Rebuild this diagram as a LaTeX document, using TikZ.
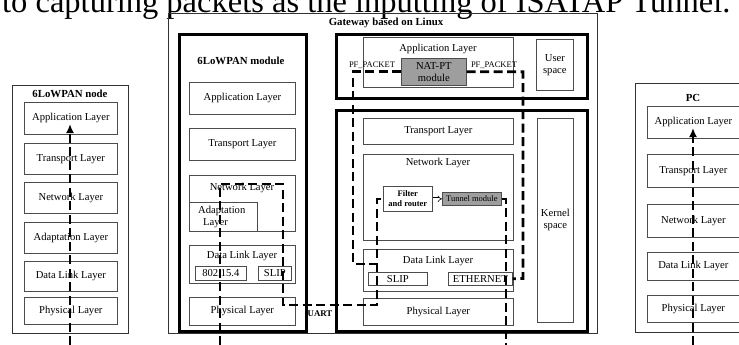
\documentclass[tikz,border=0pt]{standalone}
\usepackage{fontspec}
\setmainfont{Liberation Serif}
\usetikzlibrary{arrows.meta}
\tikzset{
  lay/.style={draw=black!70, line width=0.7pt},
  thk/.style={draw=black, line width=2.9pt},
  thinbox/.style={draw=black!80, line width=0.8pt},
  gbox/.style={lay, fill=black!38},
  flow/.style={line width=2.7pt, dash pattern=on 9pt off 4.5pt},
  txt/.style={font=\fontsize{10.6}{12}\selectfont, inner sep=0pt, align=center},
  ttl/.style={font=\fontsize{10.8}{12}\selectfont\bfseries, inner sep=0pt},
  sml/.style={font=\fontsize{8.5}{9.5}\selectfont, inner sep=0pt, align=center},
  tip/.style={-{Latex[length=9pt,width=8pt]}},
}
\newcommand{\mkbox}[7][lay]{\node[txt, #1, anchor=north west, inner sep=0pt,
  minimum width={#5-#3}, minimum height={#6-#4}] (#2) at (#3,#4) {#7};}
\begin{document}
\begin{tikzpicture}[x=1pt,y=-1pt]
\useasboundingbox (0,0) rectangle (739,345);
\clip (0,0) rectangle (739,345);
% top sentence (cut by the frame)
\node[anchor=base west, inner sep=0pt, font=\fontsize{32.5}{36}\selectfont] (topline) at (2,12.5)
  {to capturing packets as the inputting of ISATAP Tunnel.};

% ---------- 6LoWPAN node ----------
\mkbox[thinbox]{nodebox}{12}{85}{128}{333}{}
\node[ttl] (nodettl) at (70,94) {6LoWPAN node};
\mkbox{nApp}{24}{102}{117}{134}{Application Layer}
\mkbox{nTra}{24}{143}{117}{174}{Transport Layer}
\mkbox{nNet}{24}{182}{117}{213}{Network Layer}
\mkbox{nAda}{24}{222}{117}{253}{Adaptation Layer}
\mkbox{nDat}{24}{261}{117}{291}{Data Link Layer}
\mkbox{nPhy}{24}{297}{117}{324}{Physical Layer}
\coordinate (nbot) at (70,345);
\coordinate (ntip) at (70,124);
\draw[flow, tip] (nbot) -- (ntip);

% ---------- Gateway ----------
\mkbox[thinbox]{gw}{168}{13}{597}{333}{}
\node[ttl] (gwttl) at (386,23) {Gateway based on Linux};

% 6LoWPAN module
\mkbox[thk]{mod}{178}{33}{305}{330}{}
\node[ttl] (modttl) at (241,61) {6LoWPAN module};
\mkbox{mApp}{189}{82}{295}{114}{Application Layer}
\mkbox{mTra}{189}{128}{295}{160}{Transport Layer}
\mkbox{mNet}{189}{175}{295}{231}{}
\node[txt] (mNetT) at (242,188) {Network Layer};
\mkbox{mAda}{189}{202}{257}{231}{}
\node[txt, align=left, anchor=west] (mAdaT) at (198,217) {Adaptation\\\hspace*{5pt}Layer};
\mkbox{mDat}{189}{245}{295}{283}{}
\node[txt] (mDatT) at (242,256) {Data Link Layer};
\mkbox{m802}{195}{266}{246}{280}{802.15.4}
\mkbox{mSlip}{258}{266}{291}{280}{SLIP}
\mkbox{mPhy}{189}{297}{295}{325}{Physical Layer}
\node[font=\fontsize{8.8}{10}\selectfont\bfseries, inner sep=0pt] (uart) at (320,314) {UART};

% user space part
\mkbox[thk]{usr}{335}{33}{586}{97}{}
\mkbox{gApp}{363}{37}{513}{87}{}
\node[txt] (gAppT) at (438,49) {Application Layer};
\mkbox[gbox]{nat}{401}{58}{466}{85}{NAT-PT\\module}
\node[sml] (pfl) at (372,65) {PF\_PACKET};
\node[sml] (pfr) at (494,65) {PF\_PACKET};
\mkbox{user}{536}{39}{573}{90}{User\\space}

% kernel part
\mkbox[thk]{ker}{335}{109}{586}{330}{}
\mkbox{gTra}{363}{118}{513}{144}{Transport Layer}
\mkbox{gNet}{363}{154}{513}{240}{}
\node[txt] (gNetT) at (438,163) {Network Layer};
\mkbox[sml, lay, font=\fontsize{8.5}{9.5}\selectfont\bfseries]{filt}{383}{186}{432}{211}{Filter\\and router}
\mkbox[sml, gbox]{tun}{442}{192}{501}{205}{Tunnel module}
\mkbox{gDat}{363}{249}{513}{291}{}
\node[txt] (gDatT) at (438,261) {Data Link Layer};
\mkbox{gSlip}{368}{272}{427}{285}{SLIP}
\mkbox{gEth}{448}{272}{512}{285}{ETHERNET}
\mkbox{gPhy}{363}{298}{513}{325}{Physical Layer}
\mkbox{kern}{537}{118}{573}{322}{Kernel\\space}

\draw[line width=0.6pt, double, double distance=1.6pt, -{Implies}] (filt) -- (tun);

% flows in the gateway
\coordinate (mbot) at (220,345);
\coordinate (mc1) at (283,184);
\coordinate (mc2) at (377,305);
\draw[flow] (mbot) |- (mc1) |- (mc2) |- (filt.west);
\coordinate (lc1) at (353,264);
\coordinate (lc2) at (377,264);
\draw[flow] (nat.west) -| (lc1) -- (lc2);
\coordinate (rc1) at (523,278.5);
\draw[flow] (nat.east) -| (rc1) -- (gEth.east);
\coordinate (tbot) at (506,345);
\draw[flow] (tun.east) -| (tbot);

% ---------- PC ----------
\mkbox[thinbox]{pcbox}{635}{83}{751}{332}{}
\node[ttl] (pcttl) at (693,98) {PC};
\mkbox{pApp}{647}{106}{739}{138}{Application Layer}
\mkbox{pTra}{647}{154}{739}{187}{Transport Layer}
\mkbox{pNet}{647}{204}{739}{237}{Network Layer}
\mkbox{pDat}{647}{252}{739}{280}{Data Link Layer}
\mkbox{pPhy}{647}{295}{739}{322}{Physical Layer}
\coordinate (pbot) at (693,345);
\coordinate (ptip) at (693,128);
\draw[flow, tip] (pbot) -- (ptip);
\end{tikzpicture}
\end{document}
